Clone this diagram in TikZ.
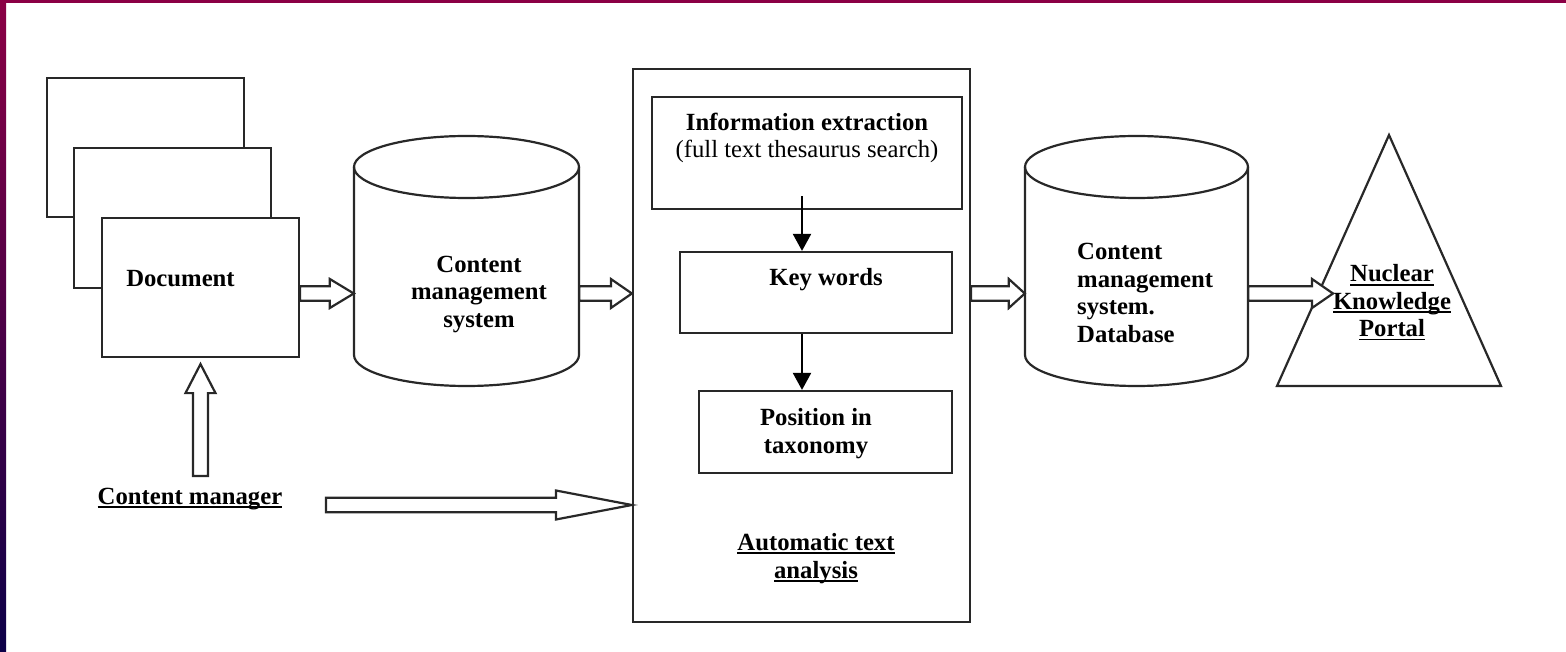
\documentclass[tikz,border=0pt]{standalone}
\usepackage{fontspec}
\setmainfont{Liberation Serif}
\usetikzlibrary{arrows.meta,calc}
\definecolor{bordertop}{RGB}{139,0,69}
\definecolor{borderbot}{RGB}{12,0,72}
\definecolor{ink}{RGB}{40,40,40}
\newcommand\myul[1]{\setbox0\hbox{#1}\rlap{\rule[-3.5pt]{\wd0}{1.7pt}}\box0}
\newcommand\harrow[4]{%
  \draw[hollow] let \p1=(#1), \p2=(#2), \p3=(#3) in
    (\x1,\y3+7.3pt) -- (\x2-#4,\y3+7.3pt) -- (\x2-#4,\y3+14.5pt) -- (\x2,\y3)
    -- (\x2-#4,\y3-14.5pt) -- (\x2-#4,\y3-7.3pt) -- (\x1,\y3-7.3pt) -- cycle;}
\newcommand\varrow[3]{%
  \draw[hollow] let \p1=(#1), \p2=(#2) in
    (\x2-7.5pt,\y1) -- (\x2-7.5pt,\y2-#3) -- (\x2-15pt,\y2-#3) -- (\x2,\y2)
    -- (\x2+15pt,\y2-#3) -- (\x2+7.5pt,\y2-#3) -- (\x2+7.5pt,\y1) -- cycle;}
\newcommand\cyl[5]{%
  \draw[outline, fill=white] (#1-#4,#2) -- (#1-#4,#3)
    arc[start angle=180, end angle=0, x radius=#4, y radius=#5] -- (#1+#4,#2);
  \draw[outline] (#1,#2) ellipse[x radius=#4, y radius=#5];}
\tikzset{
  outline/.style={draw=ink, line width=2.2pt, line join=miter},
  box/.style={outline, fill=white, rectangle, inner sep=0pt},
  hollow/.style={outline, fill=white},
  flow/.style={draw=black, line width=2.2pt, -{Triangle[length=17pt,width=18pt]}},
  txt/.style={inner sep=0pt, anchor=base, align=center, text=black},
}
\begin{document}
\begin{tikzpicture}[x=1pt, y=-1pt, font=\fontsize{24.7}{27.5}\selectfont\bfseries]
\useasboundingbox (0,0) rectangle (1566,652);
\fill[white] (0,0) rectangle (1566,652);
\fill[bordertop] (0,0) rectangle (1566,3);
\shade[top color=bordertop, bottom color=borderbot] (0,0) rectangle (6,652);

% document stack
\node[box, minimum width=197pt, minimum height=139pt] (docA) at (145.5,147.5) {};
\node[box, minimum width=197pt, minimum height=140pt] (docB) at (172.5,218) {};
\node[box, minimum width=197pt, minimum height=139pt] (doc) at (200.5,287.5) {};
\node[txt] (doctext) at (180.5,287) {Document};

% first cylinder
\cyl{466.5}{167}{355}{112.5}{31}
\node[inner sep=0pt, minimum width=225pt, minimum height=252pt] (cms1) at (466.5,261) {};
\node[txt] (cms1text) at (479,327) {Content\\management\\system};

% big box
\node[box, minimum width=337pt, minimum height=553pt] (big) at (801.5,345.5) {};
\node[box, minimum width=310pt, minimum height=112pt] (info) at (807,153) {};
\node[txt] (infotext) at (807,158) {Information extraction\\{\mdseries (full text thesaurus search)}};
\node[box, minimum width=272pt, minimum height=81pt] (kw) at (816,292.5) {};
\node[txt] (kwtext) at (826,286) {Key words};
\node[box, minimum width=253pt, minimum height=82pt] (pos) at (825.5,432) {};
\node[txt] (postext) at (816,453) {Position in\\taxonomy};
\node[txt] (atatext) at (816,578) {\myul{Automatic text}\\\myul{analysis}};

\coordinate (a1s) at ($(info.south)+(-5,-14)$);
\draw[flow] (a1s) -- (a1s |- kw.north);
\draw[flow] (kw.south -| a1s) -- (a1s |- pos.north);

% second cylinder
\cyl{1136.5}{167}{355}{111.5}{31}
\node[inner sep=0pt, minimum width=223pt, minimum height=252pt] (cms2) at (1136.5,261) {};
\node[txt, anchor=base west, align=left] (cms2text) at (1077,342) {Content\\management\\system.\\Database};

% portal triangle
\coordinate (apex) at (1389,135);
\coordinate (bright) at (1501,386);
\coordinate (bleft) at (1277,386);
\draw[outline] (apex) -- (bright) -- (bleft) -- cycle;
\node[txt] (nkp) at (1392,337) {\myul{Nuclear}\\\myul{Knowledge}\\\myul{Portal}};
\coordinate (tritip) at (1333,293.5);

% content manager
\node[txt] (cmgr) at (190,504) {\myul{Content manager}};
\coordinate (cmtop) at (200.5,476);
\coordinate (cmtail) at (326,505);

% block arrows
\coordinate (lvl) at (0,293.5);
\harrow{doc.east}{cms1.west}{lvl}{24pt}
\harrow{cms1.east}{big.west}{lvl}{21pt}
\harrow{big.east}{cms2.west}{lvl}{16pt}
\harrow{cms2.east}{tritip}{lvl}{21pt}
\harrow{cmtail}{big.west}{cmtail}{76pt}
\varrow{cmtop}{$(doc.south)+(0,6)$}{29pt}
\end{tikzpicture}
\end{document}
